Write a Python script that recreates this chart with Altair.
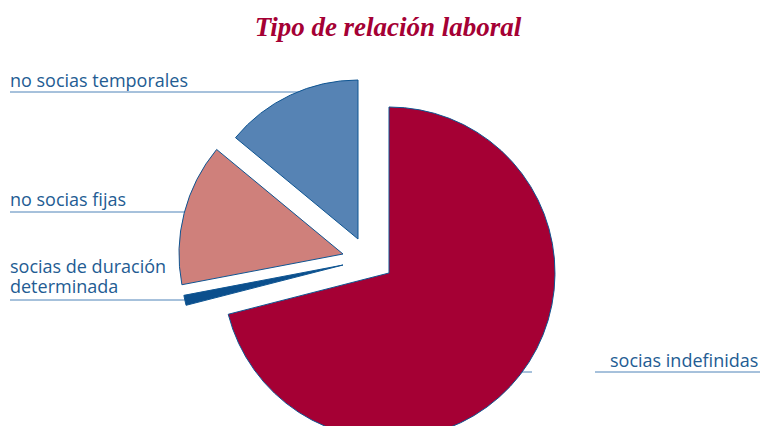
import math
import altair as alt
import pandas as pd

# ---- data ----
categories = ["socias indefinidas", "socias de duración determinada", "no socias fijas", "no socias temporales"]
shares = [71, 1, 14, 14]
labels = ["socias indefinidas", "socias de duración\ndeterminada", "no socias fijas", "no socias temporales"]
colors = ["#a50034", "#0b4f8d", "#cf807b", "#5683b4"]

df = pd.DataFrame({"cat": categories, "share": shares, "label": labels, "ord": list(range(len(categories)))})

# ---- layout (chart pixel coordinates, styling only) ----
TITLE_COLOR = "#a50034"
TEXT_COLOR = "#235c93"
RULE_COLOR = "#4f83b8"
STROKE = "#0f5592"
FONT = "Open Sans"

# per-slice exploded centre and radius
slice_layout = {
    "socias indefinidas": (381, 265, 166),
    "socias de duración determinada": (335, 257, 162),
    "no socias fijas": (335, 246, 164),
    "no socias temporales": (350, 231, 159),
}
# label text anchor (x, baseline y) and underline rules [(x1, x2, y), ...]
label_layout = {
    "no socias temporales": (2, 79, [(2, 300, 84)]),
    "no socias fijas": (2, 198, [(2, 180, 204)]),
    "socias de duración determinada": (2, 265, [(2, 180, 292)]),
    "socias indefinidas": (602, 359, [(512, 524, 364), (587, 760, 364)]),
}

base = alt.Chart(df).transform_window(
    end="sum(share)", sort=[alt.SortField("ord")], frame=[None, 0]
).transform_calculate(start="datum.end - datum.share")

theta_scale = alt.Scale(domain=[0, sum(shares)], range=[0, 2 * math.pi])
color_scale = alt.Scale(domain=categories, range=colors)

layers = []
# rules first (under the slices)
for cat, (tx, ty, rules) in label_layout.items():
    for (x1, x2, y) in rules:
        layers.append(
            base.transform_filter(alt.datum.cat == cat)
            .mark_rule(color=RULE_COLOR, strokeWidth=1)
            .encode(x=alt.value(x1), x2=alt.value(x2), y=alt.value(y))
        )

for cat in categories:
    cx, cy, r = slice_layout[cat]
    layers.append(
        base.transform_filter(alt.datum.cat == cat)
        .mark_arc(radius=r, stroke=STROKE, strokeWidth=1)
        .encode(
            theta=alt.Theta("start:Q", stack=None, scale=theta_scale),
            theta2="end:Q",
            color=alt.Color("cat:N", scale=color_scale, legend=None),
            x=alt.value(cx),
            y=alt.value(cy),
        )
    )

for cat, (tx, ty, rules) in label_layout.items():
    layers.append(
        base.transform_filter(alt.datum.cat == cat)
        .mark_text(
            font=FONT, fontSize=18, color=TEXT_COLOR, align="left", baseline="alphabetic",
            lineBreak="\n", lineHeight=20,
        )
        .encode(text="label:N", x=alt.value(tx), y=alt.value(ty))
    )

title = (
    alt.Chart(pd.DataFrame({"t": ["Tipo de relación laboral"]}))
    .mark_text(font="Liberation Serif", fontSize=27, fontStyle="italic", fontWeight="bold",
               color=TITLE_COLOR, align="center", baseline="alphabetic")
    .encode(text="t:N", x=alt.value(380), y=alt.value(28))
)
layers.append(title)

chart = alt.layer(*layers).properties(
    width=752, height=418, autosize=alt.AutoSizeParams(type="none"), padding=0
).configure_view(stroke=None)

chart.save("out.html", embed_options={"renderer": "svg", "actions": False})
